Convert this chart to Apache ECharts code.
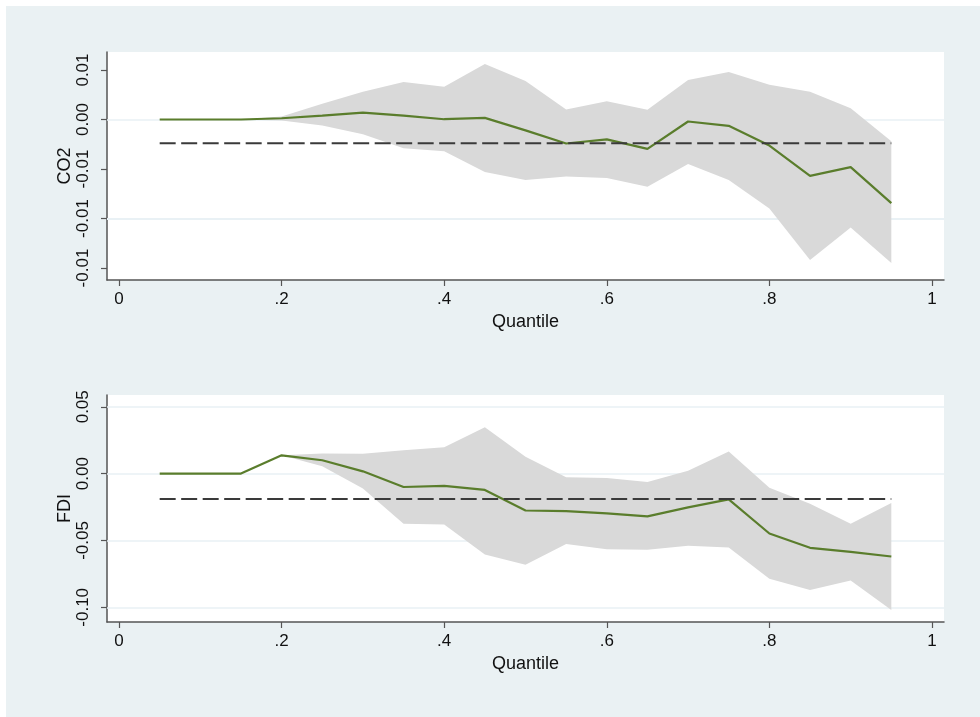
<!DOCTYPE html>
<html>
<head>
<meta charset="utf-8">
<script src="https://cdn.jsdelivr.net/npm/echarts@6/dist/echarts.min.js"></script>
<style>
html,body{margin:0;padding:0;background:#ffffff;}
#chart{width:980px;height:717px;}
</style>
</head>
<body>
<div id="chart"></div>
<script>
// ---- data ----
const quantiles = [0.05,0.10,0.15,0.20,0.25,0.30,0.35,0.40,0.45,0.50,0.55,0.60,0.65,0.70,0.75,0.80,0.85,0.90,0.95];

const co2Coef  = [0,0,0,0.00013,0.0004,0.0007,0.0004,0.00003,0.00017,-0.0011,-0.00242,-0.0020,-0.00296,-0.0002,-0.00064,-0.00263,-0.00569,-0.00481,-0.00845];
const co2Upper = [0,0,0,0.0003,0.0016,0.0028,0.0038,0.0033,0.0056,0.0039,0.0010,0.00185,0.00098,0.0040,0.0048,0.0035,0.0028,0.00114,-0.0022];
const co2Lower = [0,0,0,-0.0001,-0.0006,-0.0015,-0.0029,-0.0032,-0.0053,-0.0061,-0.00576,-0.0059,-0.0068,-0.0045,-0.0061,-0.0090,-0.0142,-0.0109,-0.0145];
const co2Ols   = -0.0024;

const fdiCoef  = [0,0,0,0.0137,0.0100,0.0017,-0.0100,-0.0092,-0.0122,-0.0276,-0.0280,-0.0297,-0.0320,-0.0253,-0.0193,-0.0448,-0.0555,-0.0585,-0.0620];
const fdiUpper = [0,0,0,0.0137,0.0150,0.0148,0.0175,0.0197,0.0347,0.0127,-0.0028,-0.0033,-0.0063,0.0022,0.0165,-0.0105,-0.0225,-0.0375,-0.0220];
const fdiLower = [0,0,0,0.0137,0.0055,-0.0112,-0.0375,-0.0380,-0.0605,-0.0682,-0.0527,-0.0565,-0.0570,-0.0540,-0.0553,-0.0787,-0.0870,-0.0800,-0.1020];
const fdiOls   = -0.019;

const xTicks = [0,0.2,0.4,0.6,0.8,1];
const xTickLabels = ["0",".2",".4",".6",".8","1"];
const co2Ticks = [0.005,0,-0.005,-0.010,-0.015];
const co2TickLabels = ["0.01","0.00","-0.01","-0.01","-0.01"];
const fdiTicks = [0.05,0,-0.05,-0.10];
const fdiTickLabels = ["0.05","0.00","-0.05","-0.10"];

// ---- styles ----
const BG = '#eaf1f3';
const GRIDC = '#e9f1f4';
const AXC = '#555555';
const FONT = '"Liberation Sans", Arial, sans-serif';
const GREEN = '#5a7d2c';
const BAND = '#d9d9d9';

function labelFor(ticks, labels){
  return function(v){
    for (let i=0;i<ticks.length;i++){ if (Math.abs(ticks[i]-v) < 1e-9) return labels[i]; }
    return '';
  };
}

function xAxisDef(gi){
  return {
    gridIndex: gi, type:'value', min:-0.0148, max:1.0148,
    name:'Quantile', nameLocation:'middle', nameGap: 33,
    nameTextStyle:{fontFamily:FONT,fontSize:18,color:'#111'},
    axisLine:{show:true,onZero:false,lineStyle:{color:AXC,width:1.5}},
    axisTick:{show:true,length:6,customValues:xTicks,lineStyle:{color:AXC,width:1.2}},
    axisLabel:{customValues:xTicks,formatter:labelFor(xTicks,xTickLabels),fontFamily:FONT,fontSize:17,color:'#111',margin:11},
    splitLine:{show:false}
  };
}
function yAxisDef(gi,min,max,ticks,labels,name){
  return {
    gridIndex: gi, type:'value', min:min, max:max,
    name:name, nameLocation:'middle', nameGap: 33, nameRotate:90, nameMoveOverlap:false,
    nameTextStyle:{fontFamily:FONT,fontSize:18,color:'#111'},
    axisLine:{show:true,onZero:false,lineStyle:{color:AXC,width:1.5}},
    axisTick:{show:true,length:6,customValues:ticks,lineStyle:{color:AXC,width:1.2}},
    axisLabel:{customValues:ticks,formatter:labelFor(ticks,labels),rotate:90,fontFamily:FONT,fontSize:17,color:'#111',margin:15},
    splitLine:{show:false}
  };
}

function gridSeries(xi, ticks){
  return {
    type:'line', xAxisIndex:xi, yAxisIndex:xi, z:1, symbol:'none', silent:true,
    data: [],
    markLine:{
      silent:true, symbol:['none','none'], label:{show:false}, z:1,
      lineStyle:{color:GRIDC,type:'solid',width:1.5},
      data: ticks.map(t=>({yAxis:t}))
    }
  };
}
function bandSeries(xi, lower, upper){
  return {
    type:'custom', xAxisIndex:xi, yAxisIndex:xi, z:2, silent:true,
    data: quantiles.map((q,i)=>[q, lower[i], upper[i]]),
    renderItem: function(params, api){
      if (params.dataIndex !== 0) return null;
      const pts = [];
      for (let i=0;i<quantiles.length;i++) pts.push(api.coord([quantiles[i], upper[i]]));
      for (let i=quantiles.length-1;i>=0;i--) pts.push(api.coord([quantiles[i], lower[i]]));
      return {type:'polygon', shape:{points:pts}, style:{fill:BAND, stroke:null}};
    }
  };
}
function coefSeries(xi, coef){
  return {
    type:'line', xAxisIndex:xi, yAxisIndex:xi, z:3, symbol:'none', silent:true,
    data: quantiles.map((q,i)=>[q, coef[i]]),
    lineStyle:{color:GREEN,width:2.2}
  };
}
function olsSeries(xi, v){
  return {
    type:'line', xAxisIndex:xi, yAxisIndex:xi, z:4, symbol:'none', silent:true,
    data: [[quantiles[0], v],[quantiles[quantiles.length-1], v]],
    lineStyle:{color:'#3a3a3a',width:2,type:[16,5.5]}
  };
}

const chart = echarts.init(document.getElementById('chart'), null, {renderer:'canvas'});
chart.setOption({
  animation:false,
  backgroundColor:'#ffffff',
  graphic:[
    {type:'rect', z:-10, shape:{x:6,y:6,width:974,height:711}, style:{fill:BG}}
  ],
  grid:[
    {left:107, top:52, width:837, height:228, backgroundColor:'#ffffff', show:true, borderWidth:0},
    {left:107, top:395, width:837, height:227, backgroundColor:'#ffffff', show:true, borderWidth:0}
  ],
  xAxis:[xAxisDef(0), xAxisDef(1)],
  yAxis:[
    yAxisDef(0,-0.01621,0.00682,co2Ticks,co2TickLabels,'CO2'),
    yAxisDef(1,-0.111,0.0588,fdiTicks,fdiTickLabels,'FDI')
  ],
  series:[
    gridSeries(0, co2Ticks),
    bandSeries(0, co2Lower, co2Upper),
    coefSeries(0, co2Coef),
    olsSeries(0, co2Ols),
    gridSeries(1, fdiTicks),
    bandSeries(1, fdiLower, fdiUpper),
    coefSeries(1, fdiCoef),
    olsSeries(1, fdiOls)
  ]
});
</script>
</body>
</html>
